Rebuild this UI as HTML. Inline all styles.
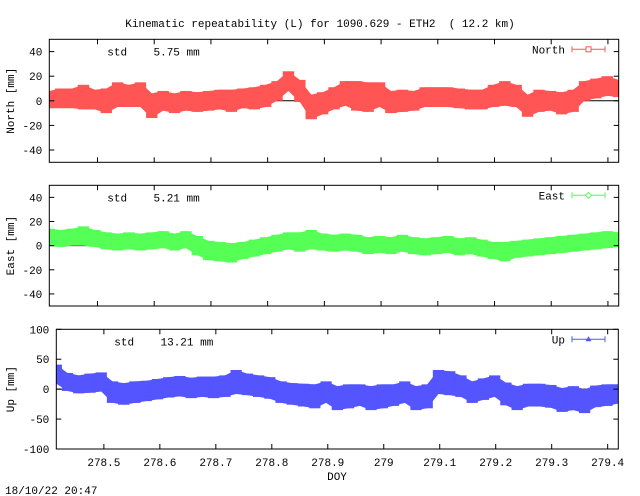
<!DOCTYPE html>
<html><head><meta charset="utf-8"><style>
body{margin:0;background:#fff}
svg{display:block}
text{font-family:"Liberation Mono","DejaVu Sans Mono",monospace;font-size:11px;fill:#000;white-space:pre}
</style></head><body>
<svg id="c" width="640" height="496" xmlns="http://www.w3.org/2000/svg" xml:space="preserve">
<text x="320" y="27" text-anchor="middle">Kinematic repeatability (L) for 1090.629 - ETH2  ( 12.2 km)</text>
<text x="337" y="480" text-anchor="middle">DOY</text>
<text x="5" y="494">18/10/22 20:47</text>
</svg>
<script>
const xDomain=[278.415,279.419];
const xTicks=[278.5,278.6,278.7,278.8,278.9,279,279.1,279.2,279.3,279.4];
const xTickLabels=["278.5","278.6","278.7","278.8","278.9","279","279.1","279.2","279.3","279.4"];
const northVals=[1,2,2,3,1,0,5,4,5,-4,0,-2,0,-1,0,1,0,2,2,4,8,16,8,-5,-2,2,6,4,3,5,-1,0,0,3,3,3,2,1,1,4,6,4,-4,0,0,-2,0,8,10,12,10];
const northSpread=[7,8,8,10,8,10,10,9,10,10,8,8,8,8,8,8,9,8,9,9,8,8,9,10,9,9,10,12,12,10,9,9,8,8,8,8,8,8,8,9,10,9,9,9,8,9,9,8,8,8,7];
const eastVals=[7,6,7,8,6,4,3,4,3,4,5,3,5,0,-4,-5,-6,-4,-2,0,2,4,3,5,3,2,3,2,0,1,0,2,0,-1,0,1,-1,0,-2,-4,-5,-3,-2,-1,0,1,2,3,4,5,5];
const eastSpread=[7,7,7,8,7,7,7,7,7,7,7,7,7,8,8,8,8,7,7,7,7,7,8,8,7,7,7,7,7,7,7,7,7,7,7,7,7,7,7,7,8,7,7,7,7,7,7,7,7,7,6];
const upVals=[25,12,8,10,12,-5,-8,-5,-3,0,3,5,2,4,3,5,12,8,5,2,-5,-8,-10,-12,-5,-15,-12,-10,-15,-12,-10,-5,-15,-12,12,10,5,-5,0,5,-8,-15,-10,-10,-12,-18,-15,-20,-12,-10,-8];
const upSpread=[16,15,15,16,16,18,18,18,17,17,17,17,17,17,18,18,20,18,18,18,18,18,19,20,18,20,20,18,20,20,18,18,20,20,20,20,18,18,18,18,19,20,19,19,19,20,20,20,18,18,16];
const northTicks=[-40,-20,0,20,40];
const upTicks=[-100,-50,0,50,100];

const svg=document.getElementById('c');
const NS='http://www.w3.org/2000/svg';
function mk(tag,attrs,parent){const e=document.createElementNS(NS,tag);for(const k in attrs)e.setAttribute(k,attrs[k]);(parent||svg).appendChild(e);return e;}

const panels=[
 {name:'north',l:49.3,r:618.7,t:39.3,b:162.3,yd:[-50,50],ticks:northTicks,vals:northVals,sp:northSpread,col:'#ff5555',label:'North [mm]',legend:'North',std:'5.75',showX:false,marker:'sq'},
 {name:'east',l:49.3,r:618.7,t:185.3,b:306,yd:[-50,50],ticks:northTicks,vals:eastVals,sp:eastSpread,col:'#55ff55',label:'East [mm]',legend:'East',std:'5.21',showX:false,marker:'dia'},
 {name:'up',l:56.3,r:618.3,t:329.3,b:449,yd:[-100,100],ticks:upTicks,vals:upVals,sp:upSpread,col:'#5555ff',label:'Up [mm]',legend:'Up',std:'13.21',showX:true,marker:'tri'}
];
panels.forEach(p=>{
 const g=mk('g',{});
 
 
 const X=v=>p.l+(v-xDomain[0])/(xDomain[1]-xDomain[0])*(p.r-p.l);
 const Y=v=>p.b-(v-p.yd[0])/(p.yd[1]-p.yd[0])*(p.b-p.t);
 const n=p.vals.length;
 const xs=p.vals.map((v,i)=>xDomain[0]+i*(xDomain[1]-xDomain[0])/(n-1));
 const z=mk('line',{x1:p.l,x2:p.r,y1:Y(0),y2:Y(0),stroke:'#000','stroke-width':1},g);
 
 
 let pts=[];
 xs.forEach((x,i)=>pts.push(X(x)+','+Y(p.vals[i]+p.sp[i])));
 for(let i=n-1;i>=0;i--)pts.push(X(xs[i])+','+Y(p.vals[i]-p.sp[i]));
 const band=mk('polygon',{points:pts.join(' '),fill:p.col},g);
 
 
 const step=(p.r-p.l)/(n-1);
 xs.forEach((x,i)=>{
  const x0=Math.max(p.l,X(x)-step/2),x1=Math.min(p.r,X(x)+step/2);
  const r=mk('rect',{x:x0,width:x1-x0,y:Y(p.vals[i]+p.sp[i]),height:Y(p.vals[i]-p.sp[i])-Y(p.vals[i]+p.sp[i]),fill:p.col},g);
  
  
 });
 const fr=mk('rect',{x:p.l,y:p.t,width:p.r-p.l,height:p.b-p.t,fill:'none',stroke:'#000','stroke-width':1},g);
 
 
 p.ticks.forEach(t=>{
  const y=Y(t);
  mk('line',{x1:p.l,x2:p.l+5,y1:y,y2:y,stroke:'#000'},g);
  mk('line',{x1:p.r-5,x2:p.r,y1:y,y2:y,stroke:'#000'},g);
  const tl=mk('text',{x:p.l-7,y:y+4,'text-anchor':'end'},g);
  tl.textContent=String(t);
  
  
 });
 xTicks.forEach((t,i)=>{
  const x=X(t);
  mk('line',{x1:x,x2:x,y1:p.b,y2:p.b-5,stroke:'#000'},g);
  mk('line',{x1:x,x2:x,y1:p.t,y2:p.t+5,stroke:'#000'},g);
  if(p.showX){
   const tl=mk('text',{x:x,y:p.b+17,'text-anchor':'middle'},g);
   tl.textContent=xTickLabels[i];
   
   
  }
 });
 const cy=(p.t+p.b)/2;
 const yl=mk('text',{x:14,y:cy,'text-anchor':'middle',transform:'rotate(-90 14 '+cy+')'},g);
 yl.textContent=p.label;
 
 
 const st=mk('text',{x:p.l+58,y:p.t+16},g);
 st.textContent='std    '+p.std+' mm';
 
 
 const lg=mk('g',{},g);
 
 
 const ly=p.t+10;
 const lt=mk('text',{x:565,y:ly+4,'text-anchor':'end'},lg);
 lt.textContent=p.legend;
 mk('line',{x1:572,x2:605,y1:ly,y2:ly,stroke:p.col},lg);
 mk('line',{x1:572,x2:572,y1:ly-3,y2:ly+3,stroke:p.col},lg);
 mk('line',{x1:605,x2:605,y1:ly-3,y2:ly+3,stroke:p.col},lg);
 if(p.marker==='sq')mk('rect',{x:586,y:ly-2.5,width:5,height:5,fill:'#fff',stroke:p.col},lg);
 else if(p.marker==='dia')mk('polygon',{points:`588.5,${ly-3} 591.5,${ly} 588.5,${ly+3} 585.5,${ly}`,fill:'#fff',stroke:p.col},lg);
 else mk('polygon',{points:`588.5,${ly-3} 591.5,${ly+2} 585.5,${ly+2}`,fill:p.col},lg);
});
</script>
</body></html>
